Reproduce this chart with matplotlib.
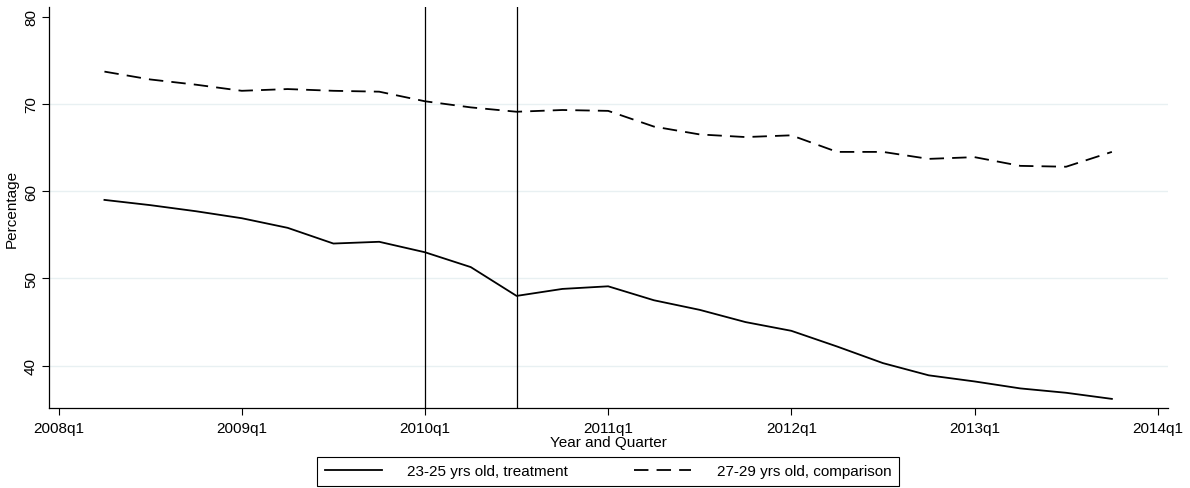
import numpy as np
import matplotlib
matplotlib.use("Agg")
import matplotlib.pyplot as plt

plt.rcParams["font.family"] = ["Liberation Sans", "DejaVu Sans"]

# quarter index: 0 = 2008q1 ... 24 = 2014q1
quarters = list(range(1, 24))  # 2008q2 .. 2013q4
treatment = [59.0, 58.4, 57.7, 56.9, 55.8, 54.0, 54.2, 53.0, 51.3, 48.0, 48.8, 49.1,
             47.5, 46.4, 45.0, 44.0, 42.2, 40.3, 38.9, 38.2, 37.4, 36.9, 36.2]
comparison = [73.7, 72.8, 72.2, 71.5, 71.7, 71.5, 71.4, 70.3, 69.6, 69.1, 69.3, 69.2,
              67.4, 66.5, 66.2, 66.4, 64.5, 64.5, 63.7, 63.9, 62.9, 62.8, 64.5]
xtick_pos = [0, 4, 8, 12, 16, 20, 24]
xtick_labels = ["2008q1", "2009q1", "2010q1", "2011q1", "2012q1", "2013q1", "2014q1"]
ytick_pos = [40, 50, 60, 70, 80]
vlines = [8, 10]  # 2010q1, 2010q3

fig = plt.figure(figsize=(11.9, 4.89), dpi=100)
ax = fig.add_axes([0.0412, 0.1626, 0.9401, 0.821])

for g in [40, 50, 60, 70]:
    ax.axhline(g, color="#e8f0f2", lw=1.0, zorder=0)
for v in vlines:
    ax.axvline(v, color="black", lw=0.9, zorder=1)

ax.plot(quarters, treatment, color="black", lw=1.3, label="23-25 yrs old, treatment", zorder=3)
ax.plot(quarters, comparison, color="black", lw=1.3, dashes=(8, 4.5),
        label="27-29 yrs old, comparison", zorder=3)

ax.set_xlim(-0.21, 24.22)
ax.set_ylim(35.1, 81.1)
ax.set_xticks(xtick_pos)
ax.set_xticklabels(xtick_labels)
ax.set_yticks(ytick_pos)
ax.set_yticklabels([str(t) for t in ytick_pos], rotation=90, va="center")
ax.tick_params(direction="out", length=5, width=0.8, labelsize=11, colors="black")
ax.tick_params(axis="x", pad=4)
ax.tick_params(axis="y", pad=3)
for s in ["top", "right"]:
    ax.spines[s].set_visible(False)
for s in ["left", "bottom"]:
    ax.spines[s].set_linewidth(0.9)

ax.set_xlabel("Year and Quarter", fontsize=11, labelpad=0)
ax.set_ylabel("Percentage", fontsize=11, labelpad=4)

leg = fig.legend(loc="lower center", bbox_to_anchor=(0.511, 0.004), ncol=2, fontsize=11,
                 frameon=True, fancybox=False, edgecolor="black", framealpha=1,
                 handlelength=3.7, columnspacing=4.3, handletextpad=1.7,
                 borderpad=0.5, borderaxespad=0)
leg.get_frame().set_linewidth(0.8)

fig.savefig("out.png", dpi=100)
